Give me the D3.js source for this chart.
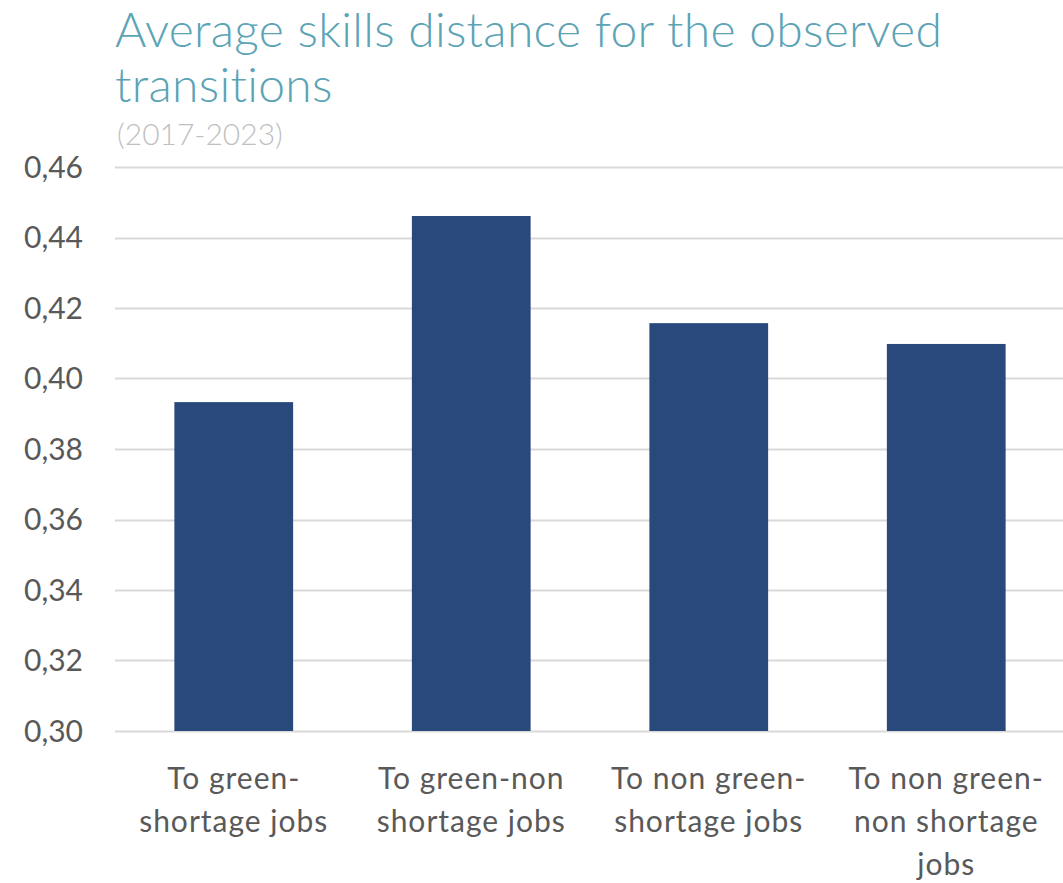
<!DOCTYPE html>
<html>
<head>
<meta charset="utf-8">
<script src="https://cdn.jsdelivr.net/npm/d3@7"></script>
<style>
  body { margin: 0; background: #fff; }
  svg text { font-family: Lato, "Open Sans", sans-serif; }
</style>
</head>
<body>
<svg width="1063" height="883"></svg>
<script>
var categories = [
  ["To green-", "shortage jobs"],
  ["To green-non", "shortage jobs"],
  ["To non green-", "shortage jobs"],
  ["To non green-", "non shortage", "jobs"]
];
var values = [0.3933, 0.4461, 0.4157, 0.4098];
var yTicks = [0.30, 0.32, 0.34, 0.36, 0.38, 0.40, 0.42, 0.44, 0.46];

var svg = d3.select("svg"),
    width = +svg.attr("width"),
    height = +svg.attr("height");

var margin = {top: 167, right: -2, bottom: 152, left: 115};

var x = d3.scaleBand()
    .domain(d3.range(categories.length))
    .range([margin.left, width - margin.right])
    .paddingInner(0.5)
    .paddingOuter(0.25);

var y = d3.scaleLinear()
    .domain([0.30, 0.46])
    .range([height - margin.bottom, margin.top]);

// title
var title = svg.append("text")
    .attr("x", 116)
    .attr("fill", "#5ba3b5")
    .style("font-size", "48px")
    .style("font-weight", 300)
    .style("letter-spacing", "0.3px");
title.append("tspan").attr("x", 115).attr("y", 47).text("Average skills distance for the observed");
title.append("tspan").attr("x", 115).attr("y", 102).text("transitions");

svg.append("text")
    .attr("x", 117)
    .attr("y", 145)
    .attr("fill", "#bfbfbf")
    .style("font-size", "30px")
    .style("font-weight", 300)
    .text("(2017-2023)");

// grid
svg.append("g")
    .selectAll("line")
    .data(yTicks)
    .enter().append("line")
      .attr("x1", margin.left)
      .attr("x2", width)
      .attr("y1", function(d) { return Math.round(y(d)) + 0.5; })
      .attr("y2", function(d) { return Math.round(y(d)) + 0.5; })
      .attr("stroke", "#d9d9d9")
      .attr("stroke-width", 2);

// y axis labels
var fmt = d3.format(".2f");
svg.append("g")
    .selectAll("text")
    .data(yTicks)
    .enter().append("text")
      .attr("x", 83)
      .attr("y", function(d) { return y(d); })
      .attr("dy", "0.35em")
      .attr("text-anchor", "end")
      .attr("fill", "#595959")
      .style("font-size", "30px")
      .text(function(d) { return fmt(d).replace(".", ","); });

// bars
svg.append("g")
    .selectAll("rect")
    .data(values)
    .enter().append("rect")
      .attr("x", function(d, i) { return x(i); })
      .attr("y", function(d) { return y(d); })
      .attr("width", x.bandwidth())
      .attr("height", function(d) { return y(0.30) - y(d); })
      .attr("fill", "#29487b");

// category labels
var cat = svg.append("g")
    .selectAll("text")
    .data(categories)
    .enter().append("text")
      .attr("text-anchor", "middle")
      .attr("fill", "#595959")
      .style("font-size", "30px")
      .style("letter-spacing", "1px");

cat.selectAll("tspan")
    .data(function(d, i) { return d.map(function(s) { return {s: s, i: i}; }); })
    .enter().append("tspan")
      .attr("x", function(d) { return x(d.i) + x.bandwidth() / 2; })
      .attr("y", function(d, j) { return 789 + j * 43; })
      .text(function(d) { return d.s; });
</script>
</body>
</html>
